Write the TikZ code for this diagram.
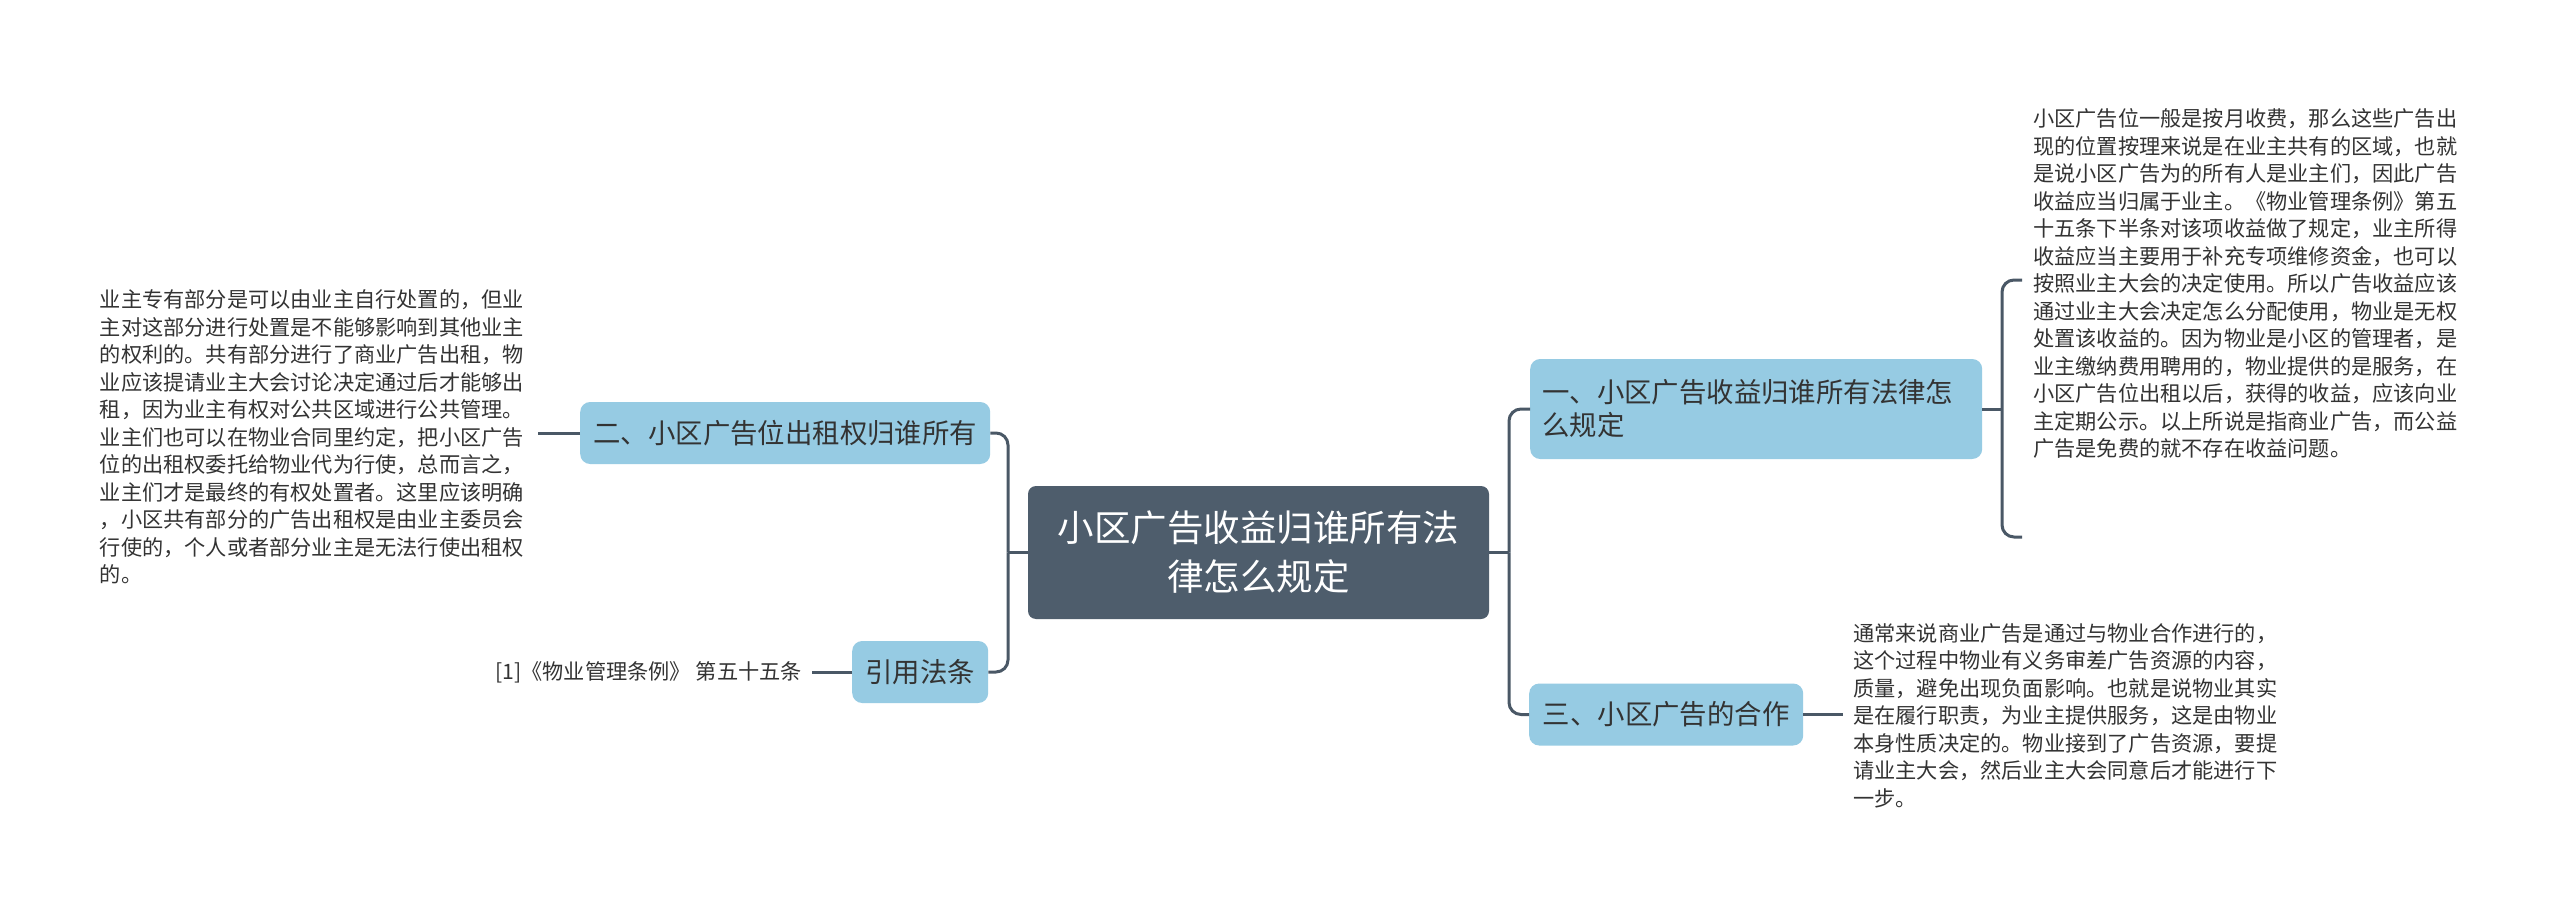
\documentclass[tikz,border=0pt]{standalone}
\usepackage{fontspec}
\setmainfont{Noto Sans CJK SC}
\usepackage{tikz}
\definecolor{root_fill}{HTML}{4E5D6C}
\definecolor{topic_fill}{HTML}{96CBE3}
\definecolor{link_color}{HTML}{4A5866}
\definecolor{ink_text}{HTML}{333333}
\tikzset{
  root_node/.style = {fill=root_fill, text=white, rounded corners=8pt,
    align=center, inner sep=0pt, font=\fontsize{36.5}{49}\selectfont,
    minimum width=461pt, minimum height=133pt},% sujet central
  topic_node/.style = {fill=topic_fill, text=ink_text, rounded corners=10pt,
    inner xsep=12pt, inner ysep=0pt, font=\fontsize{27.4}{33}\selectfont,
    minimum height=62pt},% branche
  note_text/.style = {text=ink_text, align=left, inner xsep=10pt, inner ysep=0pt,
    font=\fontsize{21.2}{27.5}\selectfont},% texte libre
  link_line/.style = {draw=link_color, line width=3pt, rounded corners=12pt}
}
\begin{document}
\begin{tikzpicture}[x=1pt, y=-1pt]
  \fill[white] (0,0) rectangle (2560,912);
  \useasboundingbox (0,0) rectangle (2560,912);

  \node [root_node] (root) at (1258.5,552.5) {小区广告收益归谁所有法\\律怎么规定};

  \node [topic_node, anchor=west, minimum width=410pt] (rent) at (580,433) {二、小区广告位出租权归谁所有};
  \node [topic_node, anchor=west, minimum width=136pt] (cite) at (852,672) {引用法条};
  \node [topic_node, anchor=west, text width=428pt, align=left, minimum height=100pt] (owner) at (1530,409)
    {一、小区广告收益归谁所有法律怎\\么规定};
  \node [topic_node, anchor=west, minimum width=274pt] (coop) at (1529,714.5) {三、小区广告的合作};

  \node [note_text, anchor=east, text width=428pt] (rent_note) at (538,437) {%
    业主专有部分是可以由业主自行处置的，但业\\
    主对这部分进行处置是不能够影响到其他业主\\
    的权利的。共有部分进行了商业广告出租，物\\
    业应该提请业主大会讨论决定通过后才能够出\\
    租，因为业主有权对公共区域进行公共管理。\\
    业主们也可以在物业合同里约定，把小区广告\\
    位的出租权委托给物业代为行使，总而言之，\\
    业主们才是最终的有权处置者。这里应该明确\\
    ，小区共有部分的广告出租权是由业主委员会\\
    行使的，个人或者部分业主是无法行使出租权\\
    的。};
  \node [note_text, anchor=east] (cite_note) at (812,672) {[1]《物业管理条例》 第五十五条};
  \node [note_text, anchor=west, text width=430pt] (owner_note) at (2023,283.5) {%
    小区广告位一般是按月收费，那么这些广告出\\
    现的位置按理来说是在业主共有的区域，也就\\
    是说小区广告为的所有人是业主们，因此广告\\
    收益应当归属于业主。《物业管理条例》第五\\
    十五条下半条对该项收益做了规定，业主所得\\
    收益应当主要用于补充专项维修资金，也可以\\
    按照业主大会的决定使用。所以广告收益应该\\
    通过业主大会决定怎么分配使用，物业是无权\\
    处置该收益的。因为物业是小区的管理者，是\\
    业主缴纳费用聘用的，物业提供的是服务，在\\
    小区广告位出租以后，获得的收益，应该向业\\
    主定期公示。以上所说是指商业广告，而公益\\
    广告是免费的就不存在收益问题。};
  \node [note_text, anchor=west, text width=430pt] (coop_note) at (1843,715.5) {%
    通常来说商业广告是通过与物业合作进行的，\\
    这个过程中物业有义务审差广告资源的内容，\\
    质量，避免出现负面影响。也就是说物业其实\\
    是在履行职责，为业主提供服务，这是由物业\\
    本身性质决定的。物业接到了广告资源，要提\\
    请业主大会，然后业主大会同意后才能进行下\\
    一步。};

  % junctions
  \coordinate (left_hub) at (1008,552.5);
  \coordinate (right_hub) at (1509,552.5);
  \coordinate (brace_mid) at (2002,409);
  \coordinate (brace_top) at (2022,280);
  \coordinate (brace_bot) at (2022,537);

  \draw [link_line] (root.west) -- (left_hub);
  \draw [link_line] (root.east) -- (right_hub);
  \draw [link_line] (rent.east) -| (left_hub);
  \draw [link_line] (cite.east) -| (left_hub);
  \draw [link_line] (owner.west) -| (right_hub);
  \draw [link_line] (coop.west) -| (right_hub);

  \draw [link_line] (rent.west) -- (rent.west -| rent_note.east);
  \draw [link_line] (cite.west) -- (cite_note.east);
  \draw [link_line] (owner.east) -- (brace_mid);
  \draw [link_line] (brace_top) -| (brace_bot -| brace_mid) -- (brace_bot);
  \draw [link_line] (coop.east) -- (coop.east -| coop_note.west);
\end{tikzpicture}
\end{document}
